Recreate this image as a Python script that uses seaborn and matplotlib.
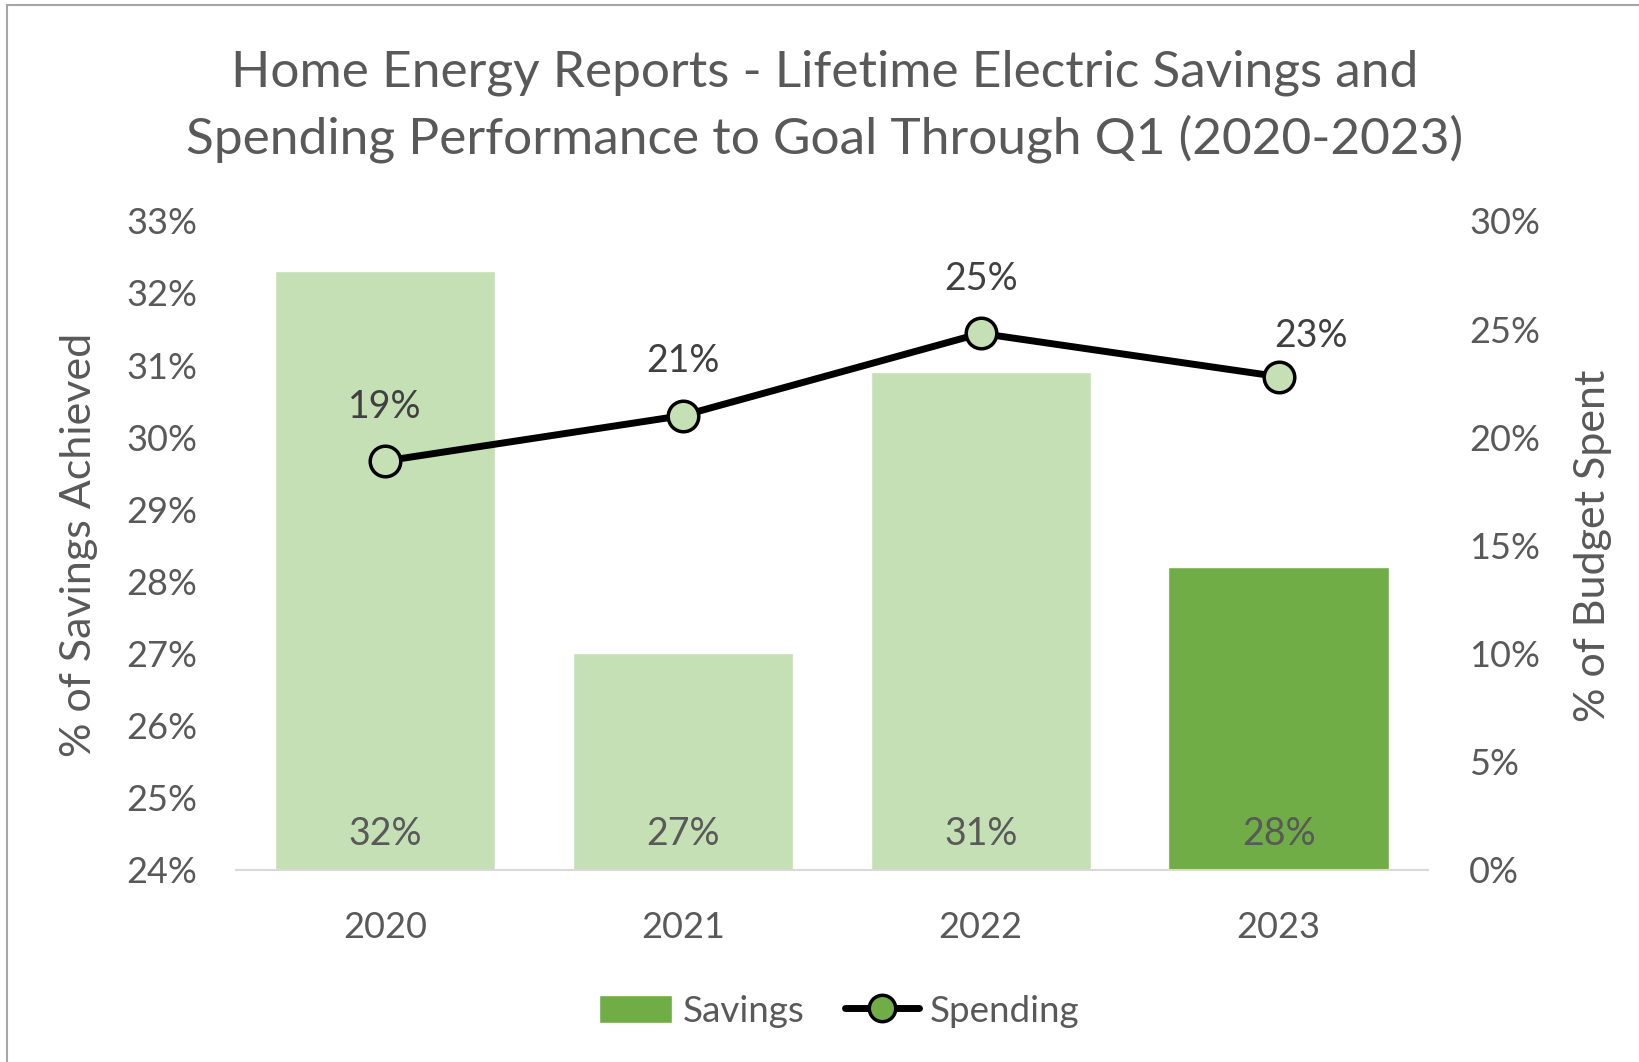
import numpy as np
import pandas as pd
import matplotlib
matplotlib.use("Agg")
import matplotlib.pyplot as plt
import seaborn as sns
from matplotlib.lines import Line2D
from matplotlib.patches import Patch

# datos
anios = ["2020", "2021", "2022", "2023"]
ahorro = [32.3, 27.0, 30.9, 28.2]      # % de ahorro logrado (eje izq)
gasto = [18.9, 21.0, 24.8, 22.8]       # % de presupuesto gastado (eje der)
etiquetas_ahorro = ["32%", "27%", "31%", "28%"]
etiquetas_gasto = ["19%", "21%", "25%", "23%"]

VERDE_CLARO = "#C5E0B4"
VERDE = "#70AD47"
GRIS = "#595959"

sns.set_theme(style="white")
plt.rcParams["font.family"] = ["Lato", "DejaVu Sans"]

df = pd.DataFrame({"anio": anios, "ahorro": ahorro, "gasto": gasto})

fig = plt.figure(figsize=(16.39, 10.62), dpi=100)
ax = fig.add_axes([0.144, 0.181, 0.727, 0.611])

colores = [VERDE_CLARO, VERDE_CLARO, VERDE_CLARO, VERDE]
sns.barplot(data=df, x="anio", y="ahorro", hue="anio", palette=colores,
            legend=False, width=0.74, ax=ax, saturation=1)
ax.set_ylim(24, 33)
ax.set_xlim(-0.5, 3.5)
ax.set_yticks(range(24, 34))
ax.set_yticklabels([f"{v}%" for v in range(24, 34)])
ax.set_xlabel("")
ax.set_ylabel("% of Savings Achieved", fontsize=31, color=GRIS, labelpad=20)
for s in ["top", "right", "left"]:
    ax.spines[s].set_visible(False)
ax.spines["bottom"].set_color("#D9D9D9")
ax.spines["bottom"].set_linewidth(1.5)
ax.tick_params(axis="both", length=0, labelsize=26, labelcolor=GRIS)
ax.tick_params(axis="x", pad=30)
ax.tick_params(axis="y", pad=28)

for i, t in enumerate(etiquetas_ahorro):
    ax.text(i, 24.5, t, ha="center", va="center", fontsize=27, color=GRIS)

ax2 = ax.twinx()
sns.lineplot(x=np.arange(len(anios)), y=gasto, ax=ax2, color="black",
             linewidth=5, marker="o", markersize=22,
             markerfacecolor=VERDE_CLARO, markeredgecolor="black",
             markeredgewidth=2.5)
ax2.set_ylim(0, 30)
ax2.set_yticks(range(0, 31, 5))
ax2.set_yticklabels([f"{v}%" for v in range(0, 31, 5)])
ax2.set_ylabel("% of Budget Spent", fontsize=31, color=GRIS, labelpad=24)
for s in ax2.spines.values():
    s.set_visible(False)
ax2.tick_params(axis="y", length=0, labelsize=26, labelcolor=GRIS, pad=30)

# la etiqueta de 2023 va desplazada a la derecha como en el original
desplaz = [(0, 2.5), (0, 2.5), (0, 2.5), (0.11, 1.9)]
for i, t in enumerate(etiquetas_gasto):
    dx, dy = desplaz[i]
    ax2.text(i + dx, gasto[i] + dy, t, ha="center", va="center", fontsize=27,
             color="#404040")

fig.text(0.503, 0.9, "Home Energy Reports - Lifetime Electric Savings and\n"
         "Spending Performance to Goal Through Q1 (2020-2023)",
         ha="center", va="center", fontsize=37, color=GRIS, linespacing=1.45)

leyenda = [Patch(facecolor=VERDE, label="Savings"),
           Line2D([0], [0], color="black", linewidth=5, marker="o",
                  markersize=19, markerfacecolor=VERDE,
                  markeredgecolor="black", markeredgewidth=2.5,
                  label="Spending")]
fig.legend(handles=leyenda, loc="center", bbox_to_anchor=(0.512, 0.048),
           ncol=2, frameon=False, fontsize=26.5, labelcolor=GRIS,
           handlelength=2.0, handleheight=0.8, columnspacing=1.1,
           handletextpad=0.3)

# marco del grafico (borde izquierdo y superior)
fig.add_artist(Line2D([0.004, 0.004], [0, 0.995], color="#A6A6A6", lw=1.5))
fig.add_artist(Line2D([0.004, 1.0], [0.995, 0.995], color="#A6A6A6", lw=1.5))

fig.savefig("out.png", dpi=100)
